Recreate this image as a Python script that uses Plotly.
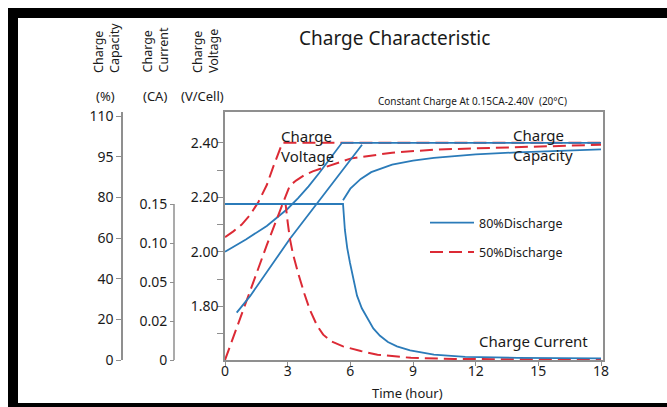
import numpy as np
import plotly.graph_objects as go

# ---------------- data ----------------
time_ticks = [0, 3, 6, 9, 12, 15, 18]
volt_tickvals = [1.7, 1.8, 1.9, 2.0, 2.1, 2.2, 2.3, 2.4]
volt_ticktext = ["", "1.80", "", "2.00", "", "2.20", "", "2.40"]
cap_ticks = [0, 20, 40, 60, 80, 95, 110]          # printed (non-uniform) % scale
cap_ticktext = ["0", "20", "40", "60", "80", "95", "110"]
cur_ticks = [0, 0.02, 0.05, 0.10, 0.15]           # printed (non-uniform) CA scale
cur_ticktext = ["0", "0.02", "0.05", "0.10", "0.15"]

# 80% discharge (blue)
b_volt_t = [0, 1, 2, 2.5, 3, 3.5, 4, 4.5, 5, 5.6, 18]
b_volt_v = [2.00, 2.045, 2.095, 2.125, 2.158, 2.197, 2.24, 2.288, 2.337, 2.40, 2.40]
b_cap1_t = [0.56, 1.2, 3.1, 4.4, 5.65, 6.56]
b_cap1_pct = [23.3, 31.4, 59.5, 76.9, 90.5, 99.4]
b_cap2_t = [5.65, 6.0, 6.5, 7, 8, 9, 10, 12, 14, 16, 18]
b_cap2_pct = [78.6, 83.2, 86.8, 89.3, 92.1, 93.6, 94.6, 95.9, 96.6, 97.2, 97.7]
b_cur_t = [0, 5.65, 5.74, 5.85, 5.98, 6.15, 6.32, 6.55, 6.8, 7.1, 7.42, 7.8, 8.23, 8.86, 10, 11.5, 14, 18]
b_cur_ca = [0.15, 0.15, 0.1167, 0.0938, 0.075, 0.0513, 0.0395, 0.0298, 0.0223, 0.0162, 0.0124,
            0.0092, 0.0070, 0.0049, 0.0027, 0.0016, 0.0011, 0.0008]

# 50% discharge (red)
r_volt_t = [0, 0.4, 0.8, 1.2, 1.6, 2.0, 2.3, 2.5, 2.75, 18]
r_volt_v = [2.054, 2.075, 2.10, 2.135, 2.183, 2.245, 2.31, 2.35, 2.40, 2.40]
r_cap_t = [0, 1, 2, 2.9, 3.1, 3.4, 3.8, 4.2, 5, 6, 8, 10, 12, 15, 18]
r_cap_pct = [0, 28.8, 56.5, 80.4, 84.3, 86.2, 88.2, 89.6, 91.8, 94.3, 96.5, 97.6, 98.1, 98.8, 99.4]
r_cur_t = [0, 2.9, 3.0, 3.1, 3.25, 3.5, 3.8, 4.07, 4.4, 4.7, 5.1, 5.65, 6.5, 7.3, 8.9, 11, 18]
r_cur_ca = [0.15, 0.15, 0.1269, 0.1064, 0.0863, 0.0613, 0.041, 0.0283, 0.0178, 0.0130, 0.0095,
            0.0070, 0.0046, 0.0027, 0.0011, 0.0005, 0.0003]

# --------------- helpers --------------
idx_cap = list(range(len(cap_ticks)))
idx_cur = list(range(len(cur_ticks)))


def cap_axis(v):   # position on the printed, evenly spaced % scale
    return np.interp(v, cap_ticks, idx_cap)


def cur_axis(v):   # position on the printed, evenly spaced CA scale
    return np.interp(v, cur_ticks, idx_cur)


L, R, T, B = 80, 603, 112, 360
W, H = R - L, B - T


def fx(px):
    return (px - L) / W


def fy(py):
    return (B - py) / H


BLUE = "#2b7bb9"
RED = "#dc2a35"
GRAY = "#8f8f8f"
TXT = "#1a1a1a"
FONT = "Noto Sans"
DASH = "13px,6px"

fig = go.Figure()

# red (drawn first, under the blue)
fig.add_trace(go.Scatter(x=r_cur_t, y=cur_axis(r_cur_ca), yaxis="y3", mode="lines",
                         line=dict(color=RED, width=2, dash=DASH), showlegend=False))
fig.add_trace(go.Scatter(x=r_cap_t, y=cap_axis(r_cap_pct), yaxis="y2", mode="lines",
                         line=dict(color=RED, width=2, dash=DASH), showlegend=False))
fig.add_trace(go.Scatter(x=r_volt_t, y=r_volt_v, yaxis="y", mode="lines",
                         line=dict(color=RED, width=2, dash=DASH),
                         name="50%Discharge", legendrank=2, legendgroup="g50"))
# blue
fig.add_trace(go.Scatter(x=b_cur_t, y=cur_axis(b_cur_ca), yaxis="y3", mode="lines",
                         line=dict(color=BLUE, width=1.8), showlegend=False))
fig.add_trace(go.Scatter(x=b_cap1_t, y=cap_axis(b_cap1_pct), yaxis="y2", mode="lines",
                         line=dict(color=BLUE, width=1.8), showlegend=False))
fig.add_trace(go.Scatter(x=b_cap2_t, y=cap_axis(b_cap2_pct), yaxis="y2", mode="lines",
                         line=dict(color=BLUE, width=1.8), showlegend=False))
fig.add_trace(go.Scatter(x=b_volt_t, y=b_volt_v, yaxis="y", mode="lines",
                         line=dict(color=BLUE, width=1.8),
                         name="80%Discharge", legendrank=1, legendgroup="g80"))

tickfont = dict(family=FONT, size=14, color=TXT)

fig.update_layout(
    width=667, height=407,
    margin=dict(l=L, r=667 - R, t=T, b=407 - B, pad=0),
    paper_bgcolor="white", plot_bgcolor="white",
    font=dict(family=FONT, color=TXT),
    xaxis=dict(domain=[fx(225), 1], range=[0, 18 * 378 / 376], tickvals=time_ticks,
               ticks="outside", ticklen=4, tickcolor=GRAY, showline=True, linecolor=GRAY,
               linewidth=1.5, mirror=True, showgrid=False, zeroline=False, tickfont=tickfont,
               ticklabelstandoff=-7),
    yaxis=dict(range=[1.603, 2.513], tickvals=volt_tickvals, ticktext=volt_ticktext,
               ticks="outside", ticklen=6, tickcolor=GRAY, showline=True, linecolor=GRAY,
               linewidth=1.5, mirror=True, showgrid=False, zeroline=False, tickfont=tickfont,
               ticklabelstandoff=-4),
    yaxis2=dict(overlaying="y", anchor="free", position=fx(122), side="left",
                range=[0, 6.1], tickvals=idx_cap, ticktext=cap_ticktext,
                ticks="outside", ticklen=5, tickcolor=GRAY, showline=True, linecolor=GRAY,
                linewidth=1.5, showgrid=False, zeroline=False, tickfont=tickfont),
    yaxis3=dict(overlaying="y", anchor="free", position=fx(174), side="left",
                range=[0, 248 / 39], tickvals=idx_cur, ticktext=cur_ticktext,
                ticks="outside", ticklen=4, tickcolor=GRAY, showline=False,
                showgrid=False, zeroline=False, tickfont=tickfont),
    legend=dict(x=fx(425), y=fy(208), xanchor="left", yanchor="top",
                bgcolor="rgba(0,0,0,0)", font=dict(family=FONT, size=12.5, color=TXT),
                itemwidth=44, tracegroupgap=10, traceorder="grouped"),
    showlegend=True,
)

# short axis line of the current scale (only spans 0 - 0.15 CA)
fig.add_shape(type="line", xref="paper", yref="y3", x0=fx(174), x1=fx(174),
              y0=0, y1=len(cur_ticks) - 1, line=dict(color=GRAY, width=1.5))

# black picture frame
fig.add_shape(type="rect", xref="paper", yref="paper", x0=fx(13), x1=fx(720),
              y0=fy(408), y1=fy(13), line=dict(color="black", width=10),
              fillcolor="rgba(0,0,0,0)", layer="above")

ann = []


def add(text, x, y, size, xa="center", ya="middle", **kw):
    ann.append(dict(text=text, x=fx(x), y=fy(y), xref="paper", yref="paper",
                    showarrow=False, xanchor=xa, yanchor=ya,
                    font=dict(family=FONT, size=size, color=TXT), **kw))


add("Charge Characteristic", 394, 38, 19)
add("Charge<br>Capacity", 106, 75, 12.5, ya="bottom", textangle=-90, align="left")
add("Charge<br>Current", 155, 75, 12.5, ya="bottom", textangle=-90, align="left")
add("Charge<br>Voltage", 205, 75, 12.5, ya="bottom", textangle=-90, align="left")
add("(%)", 105, 96, 13)
add("(CA)", 155, 96, 13)
add("(V/Cell)", 202, 96, 13)
add("Constant Charge At 0.15CA-2.40V  (20°C)", 376, 101, 10, xa="left")
add("Charge<br>Voltage", 279, 124, 15, xa="left", ya="top", align="left")
add("Charge<br>Capacity", 511, 123, 15, xa="left", ya="top", align="left")
add("Charge Current", 477, 341, 15, xa="left")
add("Time (hour)", 407, 393, 13)

fig.update_layout(annotations=ann)
fig.write_html("out.html")
